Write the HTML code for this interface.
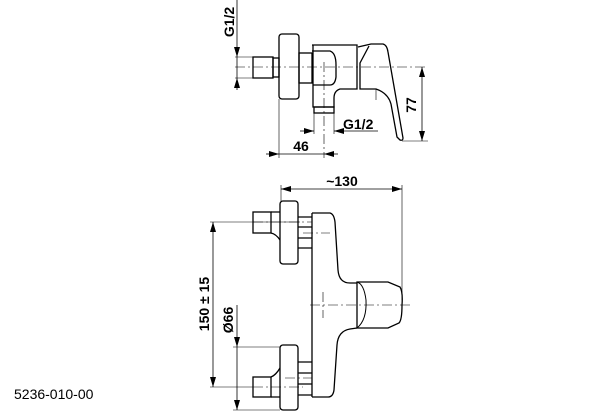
<!DOCTYPE html>
<html><head><meta charset="utf-8"><style>
html,body{margin:0;padding:0;background:#fff;}
svg{display:block;}
text{font-family:"Liberation Sans",Arial,sans-serif;font-weight:bold;fill:#000;}
</style></head><body>
<svg width="614" height="415" viewBox="0 0 614 415" xmlns="http://www.w3.org/2000/svg">
<defs>
<marker id="a" viewBox="0 0 10 6" refX="10" refY="3" markerWidth="10" markerHeight="6" orient="auto-start-reverse" markerUnits="userSpaceOnUse"><path d="M0,0 L10,3 L0,6 z" fill="#000"/></marker>
</defs>
<g fill="none" stroke="#000" stroke-width="1.3">
<!-- ===== TOP VIEW ===== -->
<rect x="253" y="57" width="20" height="21"/>
<rect x="273" y="58" width="6" height="19"/>
<rect x="279" y="34" width="20" height="65" rx="3"/>
<rect x="299" y="53" width="13" height="30"/>
<path d="M312,45 L357,45 L357,89 L340,89 Q334,91 334,98 L334,107 L313,107 L313,45"/>
<path d="M312,51 L330,51 Q336,53 336,65 L336,77 Q335,85 330,85 L313,85"/>
<rect x="314" y="107" width="20" height="6"/>
<path d="M358,47 L371,44 L383,44 Q387,45 388,52 L403,138 Q403,141 400,140 L397,137 L391,104 Q388,93 376,89 L360,89 L360,63 L369,46"/>
<path d="M376,89 L376,100" stroke-width="0.6"/>
<!-- ===== BOTTOM VIEW ===== -->
<rect x="280" y="201" width="18" height="63" rx="3"/>
<rect x="253" y="212" width="18" height="21"/>
<path d="M271,212 L280,212 M271,233 Q276,234 280,240"/>
<path d="M298,217 L312,217 M298,227 L312,227 M298,238 L312,238 M298,248 L312,248"/>
<path d="M312,213 L312,397"/>
<path d="M312,213 L330,213 Q334,214 335,222 L338,270 Q339,283 350,283 L357,283"/>
<path d="M357,282 L388,282 L400,287 Q403,292 402,305 Q402,320 399,323 L388,328 L357,328 Z"/>
<path d="M357,282 Q364,284 366,300 Q367,320 357,328" stroke-width="1"/>
<path d="M357,328 L350,329 Q338,331 337,345 L334,390 Q333,397 328,397 L312,397"/>
<rect x="280" y="345" width="18" height="65" rx="3"/>
<rect x="253" y="377" width="18" height="20"/>
<path d="M271,377 Q276,375 280,368 M271,397 L280,397"/>
<path d="M298,362 L312,362 M298,373 L312,373 M298,384 L312,384 M298,395 L312,395"/>
</g>
<!-- thin lines -->
<g fill="none" stroke="#000" stroke-width="0.6">
<path d="M235,57 L253,57 M235,78 L253,78"/>
<path d="M279,99 L279,158 M314,113 L314,134 M334,113 L334,134"/>
<path d="M402,141 L428,141"/>
<path d="M281,185 L281,201 M402,185 L402,300"/>
<path d="M210,222 L300,222 M210,387 L253,387"/>
<path d="M233,347 L280,347 M233,410 L280,410"/>
</g>
<g fill="none" stroke="#000" stroke-width="0.6" stroke-dasharray="10,3,2,3">
<path d="M235,67 L428,67"/>
<path d="M324,62 L324,158"/>
<path d="M303,233 L330,233"/>
<path d="M253,222 L312,222"/>
<path d="M310,305 L412,305"/>
<path d="M323,292 L323,318"/>
<path d="M253,387 L303,387"/>
<path d="M285,378 L312,378"/>
</g>
<!-- dimension lines -->
<g fill="none" stroke="#000" stroke-width="0.8">
<path d="M237,0 L237,57" marker-end="url(#a)"/>
<path d="M237,90 L237,78" marker-end="url(#a)"/>
<path d="M237,57 L237,78"/>
<path d="M422,67 L422,141" marker-start="url(#a)" marker-end="url(#a)"/>
<path d="M300,131 L314,131" marker-end="url(#a)"/>
<path d="M378,131 L334,131" marker-end="url(#a)"/>
<path d="M266,154 L279,154" marker-end="url(#a)"/>
<path d="M338,154 L324,154" marker-end="url(#a)"/>
<path d="M279,154 L324,154"/>
<path d="M281,189 L402,189" marker-start="url(#a)" marker-end="url(#a)"/>
<path d="M213,222 L213,387" marker-start="url(#a)" marker-end="url(#a)"/>
<path d="M237,305 L237,347" marker-end="url(#a)"/>
<path d="M237,347 L237,410" marker-end="url(#a)"/>
</g>
<!-- labels -->
<text x="0" y="0" font-size="14" text-anchor="middle" transform="translate(234,22) rotate(-90)">G1/2</text>
<text x="0" y="0" font-size="14" text-anchor="middle" transform="translate(416,105) rotate(-90)">77</text>
<text x="343" y="129" font-size="14">G1/2</text>
<text x="301" y="151" font-size="14" text-anchor="middle">46</text>
<text x="342" y="186" font-size="14" text-anchor="middle">~130</text>
<text x="0" y="0" font-size="14" text-anchor="middle" transform="translate(209,304) rotate(-90)">150 ± 15</text>
<text x="0" y="0" font-size="14" text-anchor="middle" transform="translate(233,320) rotate(-90)">Ø66</text>
<text x="14" y="399" font-size="14" style="font-weight:normal">5236-010-00</text>
</svg>
</body></html>
